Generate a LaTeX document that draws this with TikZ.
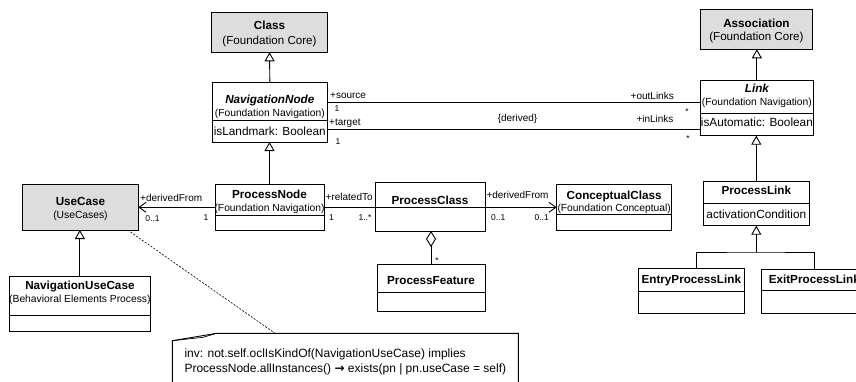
\documentclass[tikz,border=0pt]{standalone}
\usepackage{fontspec}
\setmainfont{Liberation Sans}
\newfontfamily\arrowfont{DejaVu Sans}
\usetikzlibrary{arrows.meta,fit}
\definecolor{boxgray}{RGB}{221,221,221}
\begin{document}
\begin{tikzpicture}[x=1pt,y=-1pt,
 box/.style={draw, line width=0.9pt, inner sep=0pt, outer sep=0pt},
 gbox/.style={box, fill=boxgray},
 sepline/.style={line width=0.9pt},
 ttl/.style={font=\fontsize{11.7}{14}\selectfont\bfseries, inner sep=0pt, anchor=base, yshift=-4.2pt},
 attl/.style={ttl, font=\fontsize{11.7}{14}\selectfont\bfseries\itshape},
 sub/.style={font=\fontsize{10.3}{12}\selectfont, inner sep=0pt, anchor=base, yshift=-3.8pt},
 subc/.style={font=\fontsize{11.6}{14}\selectfont, inner sep=0pt, anchor=base, yshift=-4.2pt},
 attr/.style={font=\fontsize{11.8}{14}\selectfont, inner sep=0pt, anchor=base, yshift=-4.2pt},
 role/.style={font=\fontsize{10}{12}\selectfont, inner sep=0pt, anchor=base, yshift=-3.6pt},
 mult/.style={font=\fontsize{8.5}{10}\selectfont, inner sep=0pt, anchor=base, yshift=-3pt},
 star/.style={mult, yshift=-1.5pt},
 notetext/.style={font=\fontsize{12}{15}\selectfont, inner sep=0pt, anchor=base west, yshift=-4.3pt},
 conn/.style={line width=0.9pt},
 gen/.style={conn, -{Triangle[open, length=9pt, width=10pt]}},
 nav/.style={conn, -{Straight Barb[length=7pt, width=10pt]}},
 agg/.style={conn, -{Diamond[open, length=16pt, width=10pt]}},
]
\useasboundingbox (0,0) rectangle (856,381);
\clip (0,0) rectangle (856,381);

% ---- Class
\node[gbox, fit={(211.7,12.7) (327.3,52.3)}] (class) {};
\node[ttl] (classT) at (269.5,25) {Class};
\node[subc] (classS) at (269.5,40.7) {(Foundation Core)};

% ---- NavigationNode
\node[box, fit={(212,82.3) (327.7,142)}] (nnode) {};
\draw[sepline] (nnode.west |- 0,120.5) -- (nnode.east |- 0,120.5);
\node[attl] (nnodeT) at (269.8,99) {NavigationNode};
\node[sub] (nnodeS) at (269.8,112.3) {(Foundation Navigation)};
\node[attr] (nnodeA) at (269.8,131) {isLandmark: Boolean};

% ---- Association
\node[gbox, fit={(700,9.3) (812.7,49.3)}] (assoc) {};
\node[ttl] (assocT) at (756.4,23.3) {Association};
\node[subc] (assocS) at (756.4,36.7) {(Foundation Core)};

% ---- Link
\node[box, fit={(700.7,80) (813,135.7)}] (link) {};
\draw[sepline] (link.west |- 0,113) -- (link.east |- 0,113);
\node[attl] (linkT) at (756.9,88.3) {Link};
\node[sub] (linkS) at (756.9,101.5) {(Foundation Navigation)};
\node[attr] (linkA) at (756.9,122.7) {isAutomatic: Boolean};

% ---- UseCase
\node[gbox, fit={(22.7,184) (138.3,230)}] (usecase) {};
\node[ttl] (usecaseT) at (80.5,201) {UseCase};
\node[sub] (usecaseS) at (80.5,214.3) {(UseCases)};

% ---- NavigationUseCase
\node[box, fit={(9,276) (150.7,331.7)}] (nuc) {};
\draw[sepline] (nuc.west |- 0,315.7) -- (nuc.east |- 0,315.7);
\node[ttl] (nucT) at (79.9,285) {NavigationUseCase};
\node[sub] (nucS) at (79.9,298.3) {(Behavioral Elements Process)};

% ---- ProcessNode
\node[box, fit={(215,184) (324,230)}] (pnode) {};
\draw[sepline] (pnode.west |- 0,215) -- (pnode.east |- 0,215);
\node[ttl] (pnodeT) at (269.5,194.3) {ProcessNode};
\node[sub] (pnodeS) at (269.5,207.7) {(Foundation Navigation)};

% ---- ProcessClass
\node[box, fit={(375,182.5) (485,231)}] (pclass) {};
\draw[sepline] (pclass.west |- 0,207.5) -- (pclass.east |- 0,207.5);
\node[ttl] (pclassT) at (430,200) {ProcessClass};

% ---- ProcessFeature
\node[box, fit={(377,264.3) (485,311.5)}] (pfeat) {};
\draw[sepline] (pfeat.west |- 0,292.3) -- (pfeat.east |- 0,292.3);
\node[ttl] (pfeatT) at (431,280.5) {ProcessFeature};

% ---- ConceptualClass
\node[box, fit={(556.7,184) (671.7,230.7)}] (cclass) {};
\draw[sepline] (cclass.west |- 0,214.3) -- (cclass.east |- 0,214.3);
\node[ttl] (cclassT) at (614.2,195) {ConceptualClass};
\node[sub] (cclassS) at (614.2,207.3) {(Foundation Conceptual)};

% ---- ProcessLink
\node[box, fit={(703.3,181.7) (809.3,225.7)}] (plink) {};
\draw[sepline] (plink.west |- 0,203) -- (plink.east |- 0,203);
\node[ttl] (plinkT) at (756.3,190) {ProcessLink};
\node[attr] (plinkA) at (756.3,214) {activationCondition};

% ---- EntryProcessLink
\node[box, fit={(638.3,268.5) (744.3,313.5)}] (entry) {};
\draw[sepline] (entry.west |- 0,291) -- (entry.east |- 0,291);
\node[ttl] (entryT) at (691.3,279.5) {EntryProcessLink};

% ---- ExitProcessLink
\node[box, fit={(761.7,269) (867,313)}] (exit) {};
\draw[sepline] (exit.west |- 0,290.7) -- (exit.east |- 0,290.7);
\node[ttl] (exitT) at (814.3,279.5) {ExitProcessLink};

% ---- generalizations
\draw[gen] (nnode.north) -- (class.south);
\draw[gen] (pnode.north) -- (pnode.north |- nnode.south);
\draw[gen] (link.north) -- (link.north |- assoc.south);
\draw[gen] (plink.north) -- (plink.north |- link.south);
\draw[gen] (nuc.north) -- (nuc.north |- usecase.south);
\coordinate (jn) at (756.3,252);
\draw[conn] (entry.north -| 696,0) |- (jn) -| (exit.north);
\draw[gen] (jn) -- (plink.south);

% ---- associations
\draw[conn] (nnode.east |- 0,102.3) -- (link.west |- 0,102.3);
\draw[conn] (nnode.east |- 0,129) -- (link.west |- 0,129);
\draw[nav] (pnode.west |- 0,207.3) -- (usecase.east |- 0,207.3);
\draw[conn] (pnode.east |- 0,207.3) -- (pclass.west |- 0,207.3);
\draw[nav] (pclass.east |- 0,207.3) -- (cclass.west |- 0,207.3);
\draw[agg] (pfeat.north) -- (pfeat.north |- pclass.south);

% ---- labels
\node[role, anchor=base west] (lsrc) at (330,95) {+source};
\node[mult] (msrc) at (337,108.7) {1};
\node[role, anchor=base west] (ltgt) at (329,122.3) {+target};
\node[mult] (mtgt) at (338,141.3) {1};
\node[role, anchor=base east] (lout) at (674,95.7) {+outLinks};
\node[star] (mout) at (687,109.5) {*};
\node[role] (lder) at (517.5,118.3) {\{derived\}};
\node[role] (lin) at (655,119.3) {+inLinks};
\node[star] (min) at (688,137) {*};
\node[role, anchor=base west] (luc) at (140,197.5) {+derivedFrom};
\node[mult] (muc) at (152.5,218.5) {0..1};
\node[mult] (mpn) at (206,217.3) {1};
\node[role, anchor=base west] (lrel) at (325.5,197.3) {+relatedTo};
\node[mult] (mpn2) at (331.5,217.5) {1};
\node[mult] (mpc) at (365,217.3) {1..*};
\node[role] (lcc) at (517.5,194.7) {+derivedFrom};
\node[mult] (mpc2) at (498.3,217.3) {0..1};
\node[mult] (mcc) at (541.7,217.3) {0..1};
\node[star] (mpf) at (437,258.5) {*};

% ---- note
\coordinate (notetop) at (275,333.3);
\draw[line width=0.6pt, dash pattern=on 2pt off 1.5pt] (usecase.south -| 127.7,0) -- (notetop);
\draw[box] (172.3,395) -- (172.3,340.7) -- (216.7,333.3) -- (518.3,333.3) -- (518.3,395);
\draw[conn, line width=0.7pt] (172.3,340.7) -- (203,337.3) -- (216.7,333.3);
\node[notetext] (note1) at (184.3,352.7) {inv: not.self.oclIsKindOf(NavigationUseCase) implies};
\node[notetext] (note2) at (184.3,368.3) {ProcessNode.allInstances() {\arrowfont\bfseries\fontsize{12}{14}\selectfont →} exists(pn | pn.useCase = self)};
\end{tikzpicture}
\end{document}
